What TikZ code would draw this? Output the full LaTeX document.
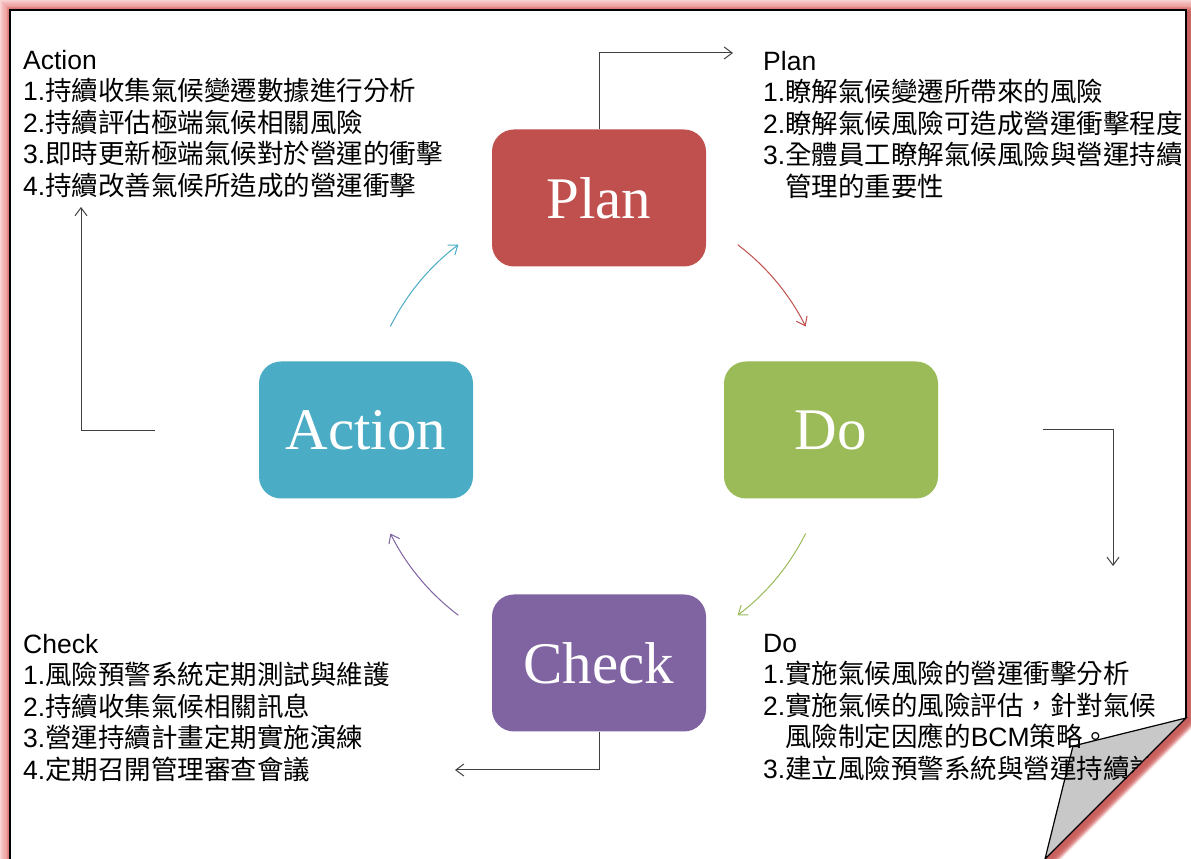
\documentclass[tikz,border=0pt]{standalone}
\usepackage{fontspec}
\setmainfont{Liberation Sans}
\newfontfamily\cjk{Noto Sans CJK TC}
\newfontfamily\boxserif{Liberation Serif}
\usetikzlibrary{arrows.meta,calc}
\definecolor{planc}{HTML}{C0504D}
\definecolor{doc}{HTML}{9BBB59}
\definecolor{checkc}{HTML}{8064A2}
\definecolor{actc}{HTML}{4BACC6}
\definecolor{glow}{HTML}{E87878}
\definecolor{connc}{HTML}{404040}
\definecolor{curlc}{HTML}{C8C8C8}
\begin{document}
\begin{tikzpicture}[x=1pt,y=1pt,
  phase/.style={rounded corners=22pt, minimum width=214pt, minimum height=137pt, inner sep=0pt, text=white, font=\boxserif\fontsize{59}{60}\selectfont},
  cyc/.style={line width=1pt, -{Straight Barb[length=8pt,width=12pt]}},
  elbow/.style={draw=connc, line width=1pt, -{Straight Barb[length=8pt,width=12pt]}},
  txt/.style={anchor=north west, inner sep=0pt, align=left, font=\fontsize{26.5}{31.5}\selectfont}]
\useasboundingbox (0,0) rectangle (1191,859);
% glow around the page
\foreach \d in {1,...,12}{
  \fill[glow, opacity=0.12] ({10-\d},-30) -- ({10-\d},{849+\d}) -- ({1186+\d},{849+\d}) -- ({1186+\d},{141-0.414*\d}) -- ({1015+1.414*\d},-30) -- cycle;
}
\foreach \d in {1,...,6}{
  \fill[planc, opacity=0.22] ({13-\d},-30) -- ({13-\d},{846+\d}) -- ({1189+\d},{846+\d}) -- ({1189+\d},{138-0.414*\d}) -- ({1021+1.414*\d},-30) -- cycle;
}
% page
\fill[white] (10,-30) -- (10,849) -- (1186,849) -- (1186,141) -- (1015,-30) -- cycle;
\filldraw[fill=curlc, draw=black, line width=1.2pt] (1186,141) -- (1073,113) -- (1045,0) -- cycle;
\draw[line width=2pt] (10,-30) -- (10,849) -- (1186,849) -- (1186,141);

% phase boxes
\node[phase, fill=planc] (plan) at (599,661) {Plan};
\node[phase, fill=doc] (do) at (831,429) {Do};
\node[phase, fill=checkc] (check) at (599,196) {Check};
\node[phase, fill=actc] (act) at (366,429) {Action};

% cycle arcs
\coordinate (ctr) at (598,429);
\draw[cyc, planc] ($(ctr)+(53:232)$) arc[start angle=53, end angle=26.5, radius=232];
\draw[cyc, doc] ($(ctr)+(-26.5:232)$) arc[start angle=-26.5, end angle=-53, radius=232];
\draw[cyc, checkc] ($(ctr)+(-127:232)$) arc[start angle=-127, end angle=-153.5, radius=232];
\draw[cyc, actc] ($(ctr)+(153.5:232)$) arc[start angle=153.5, end angle=127, radius=232];

% elbow connectors
\coordinate (planE) at (733,806);
\draw[elbow] (plan.north) |- (planE);
\coordinate (doS) at (1043,429);
\coordinate (doE) at (1113,293);
\draw[elbow] (doS) -| (doE);
\coordinate (chkE) at (455,89);
\draw[elbow] (check.south) |- (chkE);
\coordinate (actS) at (155,428);
\coordinate (actE) at (81,652);
\draw[elbow] (actS) -| (actE);

% text blocks
\begin{scope}
\clip (10,-30) -- (10,849) -- (1186,849) -- (1186,141) -- (1015,-30) -- cycle;
\node[txt] (acttxt) at (23,810) {\rule{0pt}{20pt}Action\\
1.{\cjk 持續收集氣候變遷數據進行分析}\\
2.{\cjk 持續評估極端氣候相關風險}\\
3.{\cjk 即時更新極端氣候對於營運的衝擊}\\
4.{\cjk 持續改善氣候所造成的營運衝擊}};
\node[txt] (plantxt) at (763,809) {\rule{0pt}{20pt}Plan\\
1.{\cjk 瞭解氣候變遷所帶來的風險}\\
2.{\cjk 瞭解氣候風險可造成營運衝擊程度}\\
3.{\cjk 全體員工瞭解氣候風險與營運持續}\\
\phantom{3.}{\cjk 管理的重要性}};
\node[txt] (chktxt) at (23,226) {\rule{0pt}{20pt}Check\\
1.{\cjk 風險預警系統定期測試與維護}\\
2.{\cjk 持續收集氣候相關訊息}\\
3.{\cjk 營運持續計畫定期實施演練}\\
4.{\cjk 定期召開管理審查會議}};
\node[txt] (dotxt) at (763,227) {\rule{0pt}{20pt}Do\\
1.{\cjk 實施氣候風險的營運衝擊分析}\\
2.{\cjk 實施氣候的風險評估，針對氣候}\\
\phantom{2.}{\cjk 風險制定因應的}BCM{\cjk 策略。}\\
3.{\cjk 建立風險預警系統與營運持續計畫}};
\end{scope}
\end{tikzpicture}
\end{document}
